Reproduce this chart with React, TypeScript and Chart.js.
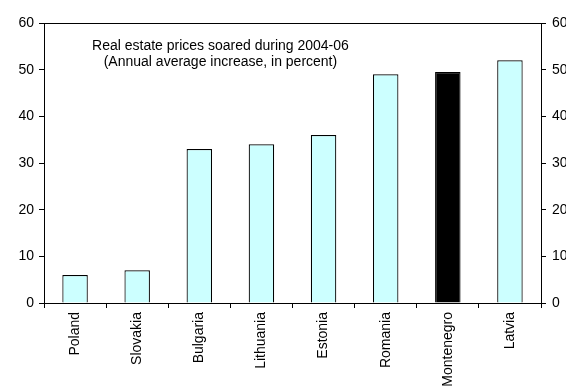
import React, { useEffect, useRef } from "react";
import { Chart, registerables } from "chart.js";

Chart.register(...registerables);

// Countries, left to right
const categories = [
  "Poland",
  "Slovakia",
  "Bulgaria",
  "Lithuania",
  "Estonia",
  "Romania",
  "Montenegro",
  "Latvia",
];

// Annual average increase in real estate prices, 2004-06 (percent)
const priceIncrease = [6, 7, 33, 34, 36, 49, 49.5, 52];

// Montenegro is highlighted in black
const highlight = "Montenegro";

const yTicks = [0, 10, 20, 30, 40, 50, 60];

const titleLines = [
  "Real estate prices soared during 2004-06",
  "(Annual average increase, in percent)",
];

const FONT = "'Liberation Sans', Arial, sans-serif";

// Draws the frame's top edge and the in-plot caption
const framePlugin = {
  id: "frameAndCaption",
  afterDraw(chart: Chart) {
    const { ctx, chartArea } = chart;
    ctx.save();
    ctx.strokeStyle = "#000";
    ctx.lineWidth = 1;
    ctx.beginPath();
    ctx.moveTo(chartArea.left, Math.round(chartArea.top) + 0.5);
    ctx.lineTo(chartArea.right, Math.round(chartArea.top) + 0.5);
    ctx.stroke();

    ctx.fillStyle = "#000";
    ctx.font = `14px ${FONT}`;
    ctx.textAlign = "center";
    ctx.textBaseline = "alphabetic";
    const cx = chartArea.left + (chartArea.right - chartArea.left) * 0.355;
    titleLines.forEach((line, i) => {
      ctx.fillText(line, cx, chartArea.top + 27 + i * 16);
    });
    ctx.restore();
  },
};

export default function App() {
  const canvasRef = useRef<HTMLCanvasElement | null>(null);

  useEffect(() => {
    const canvas = canvasRef.current;
    if (!canvas) return;

    const tickFont = { family: FONT, size: 14 };

    const chart = new Chart(canvas, {
      type: "bar",
      data: {
        labels: categories,
        datasets: [
          {
            data: priceIncrease,
            backgroundColor: categories.map((c) =>
              c === highlight ? "#000000" : "#CCFFFF"
            ),
            borderColor: "#000000",
            borderWidth: 1.2,
            barPercentage: 0.41,
            categoryPercentage: 1,
          },
        ],
      },
      plugins: [framePlugin],
      options: {
        responsive: false,
        animation: false,
        devicePixelRatio: 1,
        layout: { padding: { top: 23, left: 0, right: 0, bottom: 0 } },
        plugins: {
          legend: { display: false },
          tooltip: { enabled: false },
          title: { display: false },
        },
        scales: {
          x: {
            grid: {
              display: true,
              drawOnChartArea: false,
              drawTicks: true,
              tickLength: 5,
              color: "#000",
              offset: true,
            },
            border: { display: true, color: "#000", width: 1 },
            ticks: {
              color: "#000",
              font: tickFont,
              minRotation: 90,
              maxRotation: 90,
              autoSkip: false,
              padding: 4,
            },
            afterFit(scale: any) {
              scale.height = 84;
            },
          },
          y: {
            position: "left",
            min: 0,
            max: 60,
            afterBuildTicks(scale: any) {
              scale.ticks = yTicks.map((v) => ({ value: v }));
            },
            grid: {
              display: true,
              drawOnChartArea: false,
              drawTicks: true,
              tickLength: 5,
              color: "#000",
            },
            border: { display: true, color: "#000", width: 1 },
            ticks: { color: "#000", font: tickFont, padding: 5 },
            afterFit(scale: any) {
              scale.width = 44;
            },
          },
          y2: {
            position: "right",
            min: 0,
            max: 60,
            afterBuildTicks(scale: any) {
              scale.ticks = yTicks.map((v) => ({ value: v }));
            },
            grid: {
              display: true,
              drawOnChartArea: false,
              drawTicks: true,
              tickLength: 5,
              color: "#000",
            },
            border: { display: true, color: "#000", width: 1 },
            ticks: { color: "#000", font: tickFont, padding: 6 },
            afterFit(scale: any) {
              scale.width = 25;
            },
          },
        },
      },
    });

    return () => chart.destroy();
  }, []);

  return (
    <div
      style={{
        position: "fixed",
        left: 0,
        top: 0,
        width: 566,
        height: 387,
        background: "#fff",
      }}
    >
      <canvas ref={canvasRef} width={566} height={387} />
    </div>
  );
}
